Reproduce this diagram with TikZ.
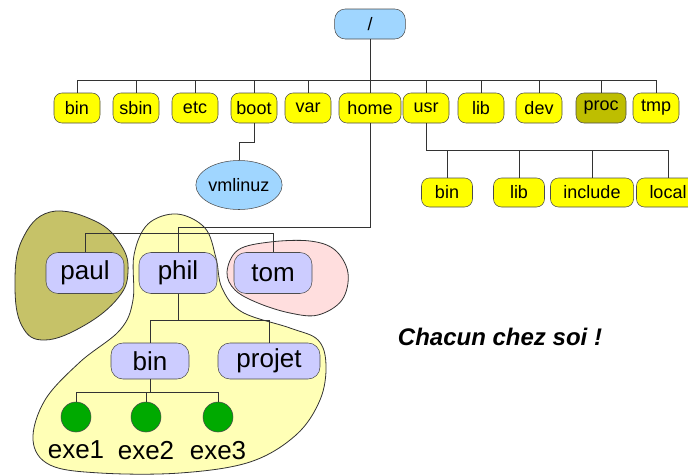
\documentclass[tikz,border=0pt]{standalone}
\usepackage{fontspec}
\setmainfont{Liberation Sans}
\usetikzlibrary{shapes.geometric, positioning}

\definecolor{rootblue}{RGB}{160,214,255}
\definecolor{diryellow}{RGB}{255,255,0}
\definecolor{procolive}{RGB}{190,190,0}
\definecolor{userblue}{RGB}{204,204,255}
\definecolor{exegreen}{RGB}{0,170,0}
\definecolor{paulzone}{RGB}{198,194,104}
\definecolor{philzone}{RGB}{255,255,182}
\definecolor{tomzone}{RGB}{255,222,222}

\begin{document}
\begin{tikzpicture}[
        x=0.75pt, y=-0.75pt,
        rootdir/.style={rectangle, rounded corners=8pt, draw=black!70, fill=rootblue, minimum width=53pt, minimum height=22.5pt, font=\fontsize{13.5}{16}\selectfont},
        topdir/.style={rectangle, rounded corners=6pt, draw=black!70, fill=diryellow, minimum width=34.5pt, minimum height=22.5pt, inner xsep=3pt, font=\fontsize{13.5}{16}\selectfont},
        subdir/.style={topdir, minimum width=38.25pt, minimum height=21.75pt, inner xsep=9.75pt},
        userdir/.style={rectangle, rounded corners=9pt, draw=black!70, fill=userblue, minimum width=58.5pt, minimum height=30.75pt, inner xsep=8pt, font=\fontsize{19.5}{23}\selectfont},
        kernel/.style={ellipse, draw=black!70, fill=rootblue, minimum width=57pt, minimum height=36.75pt, inner sep=0pt, font=\fontsize{13.5}{16}\selectfont},
        exe/.style={circle, draw=black!70, fill=exegreen, minimum size=22.5pt, inner sep=0pt},
        exelabel/.style={font=\fontsize{19.5}{23}\selectfont},
        tree/.style={draw=black!80, line width=0.75pt},
        zone/.style={draw=black!80, line width=0.6pt}
    ]
    \useasboundingbox (0,0) rectangle (688,475);

    % --- zones of the users ---
    \draw[zone, fill=paulzone] plot[smooth cycle, tension=0.7] coordinates {
        (50,212) (95,221) (121,245) (128,272) (118,298) (85,325) (45,340) (22,326) (15,285) (22,240)};
    \draw[zone, fill=philzone] plot[smooth cycle, tension=0.6] coordinates {
        (177,214) (205,228) (216,258) (222,288) (242,312) (290,328) (318,340) (326,365) (320,400)
        (296,435) (250,462) (180,473) (100,473) (50,465) (33,440) (45,400) (80,362) (120,330)
        (133,300) (134,255) (148,224)};
    \draw[zone, fill=tomzone] plot[smooth cycle, tension=0.6] coordinates {
        (227,272) (238,250) (270,242) (310,241) (335,250) (348,273) (342,300) (318,315) (290,313)
        (258,303) (235,290)};

    % --- root and first level ---
    \node[rootdir] (root) at (370,24) {/};
    \node[topdir] (bin) at (77,108) {bin};
    \node[topdir] (sbin) at (136,108) {sbin};
    \node[topdir] (etc) at (195,108) {etc};
    \node[topdir] (boot) at (254,108) {boot};
    \node[topdir] (var) at (308,108) {var};
    \node[topdir, minimum width=46.5pt] (home) at (370,108) {home};
    \node[topdir] (usr) at (426,108) {usr};
    \node[topdir] (lib) at (481,108) {lib};
    \node[topdir] (dev) at (539,108) {dev};
    \node[topdir, fill=procolive, minimum width=37.5pt] (proc) at (601,108) {proc};
    \node[topdir] (tmp) at (656,108) {tmp};

    \draw[tree] (root.south) -- ++(0,41) coordinate (rootbus);
    \foreach \d in {bin,sbin,etc,boot,var,home,usr,lib,dev,proc,tmp}
        \draw[tree] (rootbus) -| (\d.north);

    % --- boot ---
    \node[kernel] (vmlinuz) at (239,185) {vmlinuz};
    \draw[tree] (boot.south) -- ++(0,19) -| (vmlinuz.north);

    % --- usr ---
    \node[subdir] (usrbin) at (447,192.5) {bin};
    \node[subdir] (usrlib) at (519,192.5) {lib};
    \node[subdir] (include) at (592,192.5) {include};
    \node[subdir] (local) at (668,192.5) {local};

    \draw[tree] (usr.south) -- ++(0,27) coordinate (usrbus);
    \foreach \d in {usrbin,usrlib,include,local}
        \draw[tree] (usrbus) -| (\d.north);

    % --- home ---
    \node[userdir] (paul) at (85,273) {paul};
    \node[userdir] (phil) at (178,273) {phil};
    \node[userdir] (tom) at (273,273) {tom};

    \draw[tree] (home.south) -- ++(0,104) -| (phil.north);
    \coordinate (homebus) at ([yshift=14.25pt]phil.north);
    \draw[tree] (homebus) -| (paul.north);
    \draw[tree] (homebus) -| (tom.north);

    % --- phil ---
    \node[userdir, minimum height=27pt] (philbin) at (150,361) {bin};
    \node[userdir, minimum height=27pt, minimum width=76.5pt] (projet) at (269,361) {projet};
    \draw[tree] (phil.south) -- ++(0,27) coordinate (philbus);
    \draw[tree] (philbus) -| (philbin.north);
    \draw[tree] (philbus) -| (projet.north);

    \node[exe] (exe1) at (76,417) {};
    \node[exe] (exe2) at (146,417) {};
    \node[exe] (exe3) at (218,417) {};
    \node[exelabel, below=3pt of exe1] (lexe1) {exe1};
    \node[exelabel, below=3pt of exe2] (lexe2) {exe2};
    \node[exelabel, below=3pt of exe3] (lexe3) {exe3};

    \draw[tree] (philbin.south) -- ++(0,13) coordinate (binbus);
    \foreach \e in {exe1,exe2,exe3}
        \draw[tree] (binbus) -| (\e.north);

    \node[font=\fontsize{18}{22}\selectfont\bfseries\itshape] (motto) at (500,337) {Chacun chez soi !};
\end{tikzpicture}
\end{document}
